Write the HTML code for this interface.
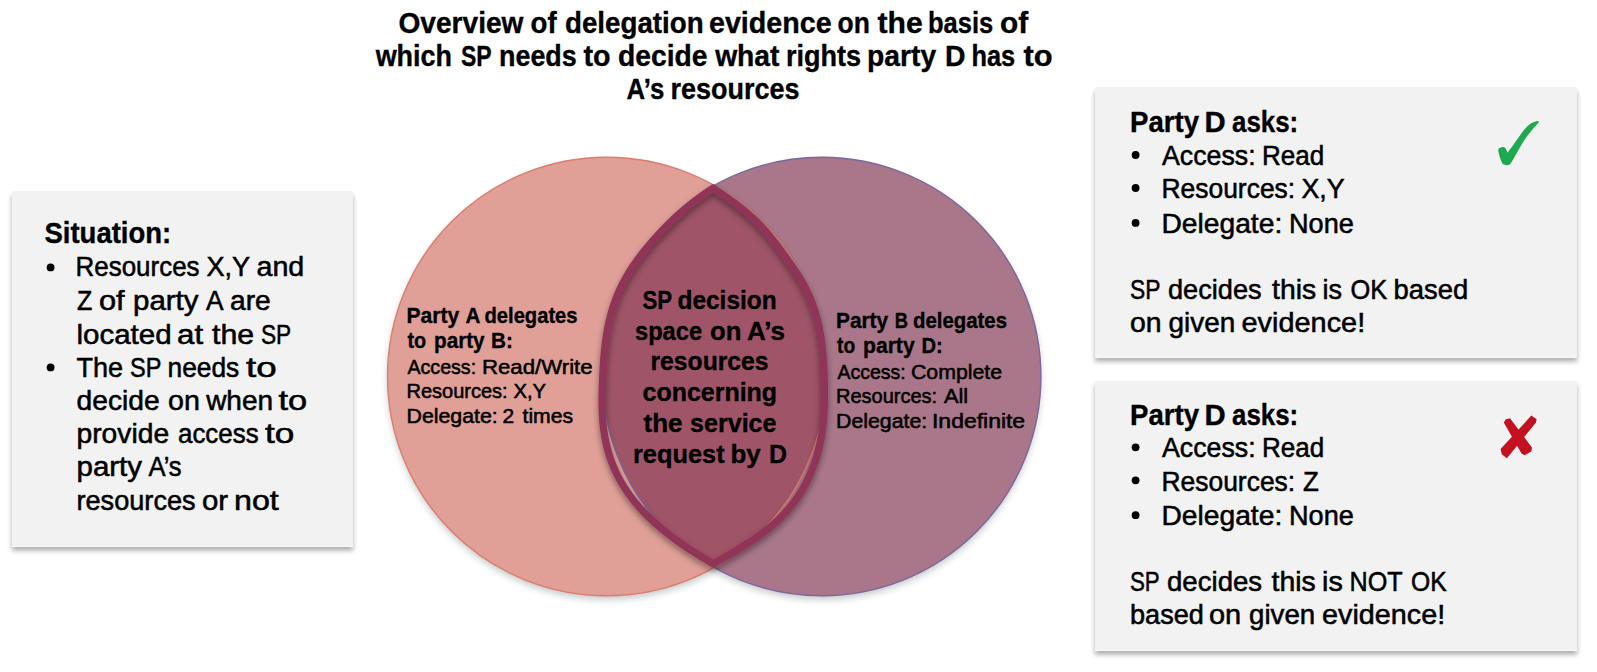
<!DOCTYPE html>
<html><head><meta charset="utf-8"><style>
html,body{margin:0;padding:0;background:#fff;}
body{width:1597px;height:672px;overflow:hidden;position:relative;font-family:"Liberation Sans",sans-serif;}
.box{position:absolute;background:#f2f2f2;box-shadow:0 3.5px 5px rgba(0,0,0,0.33),inset 0 -1px 0 rgba(255,255,255,0.5);}
svg{position:absolute;left:0;top:0;}
</style></head><body>
<div class="box" style="left:11.5px;top:190.5px;width:341px;height:356px"></div>
<div class="box" style="left:1095px;top:87px;width:482px;height:271px"></div>
<div class="box" style="left:1095px;top:380.5px;width:482px;height:270px"></div>
<svg width="1597" height="672" viewBox="0 0 1597 672" font-family="Liberation Sans, sans-serif">
<defs>
<filter id="ds" x="-10%" y="-10%" width="120%" height="125%">
<feDropShadow dx="0" dy="4" stdDeviation="3" flood-color="#203030" flood-opacity="0.25"/>
</filter>
<filter id="lds" x="-20%" y="-20%" width="140%" height="140%">
<feDropShadow dx="0" dy="3.5" stdDeviation="3.2" flood-color="#000" flood-opacity="0.42"/>
</filter>
<clipPath id="oclip"><path d="M713.40 184.0 L711.29 185.0 L709.75 186.0 L708.24 187.0 L706.75 188.0 L705.27 189.0 L703.82 190.0 L702.39 191.0 L700.98 192.0 L699.59 193.0 L698.21 194.0 L696.86 195.0 L695.52 196.0 L694.20 197.0 L692.90 198.0 L691.61 199.0 L690.34 200.0 L689.09 201.0 L687.85 202.0 L686.62 203.0 L685.41 204.0 L684.22 205.0 L683.04 206.0 L681.87 207.0 L680.71 208.0 L679.57 209.0 L678.44 210.0 L677.32 211.0 L676.22 212.0 L675.12 213.0 L674.03 214.0 L672.96 215.0 L671.89 216.0 L670.83 217.0 L669.78 218.0 L668.74 219.0 L667.71 220.0 L666.69 221.0 L665.67 222.0 L664.66 223.0 L663.66 224.0 L662.66 225.0 L661.67 226.0 L660.70 227.0 L659.72 228.0 L658.76 229.0 L657.80 230.0 L656.85 231.0 L655.91 232.0 L654.98 233.0 L654.05 234.0 L653.14 235.0 L652.23 236.0 L651.33 237.0 L650.43 238.0 L649.55 239.0 L648.67 240.0 L647.80 241.0 L646.94 242.0 L646.09 243.0 L645.24 244.0 L644.40 245.0 L643.57 246.0 L642.75 247.0 L641.94 248.0 L641.14 249.0 L640.34 250.0 L639.55 251.0 L638.77 252.0 L638.00 253.0 L637.24 254.0 L636.49 255.0 L635.74 256.0 L635.00 257.0 L634.28 258.0 L633.56 259.0 L632.84 260.0 L632.14 261.0 L631.45 262.0 L630.76 263.0 L630.08 264.0 L629.42 265.0 L628.76 266.0 L628.11 267.0 L627.46 268.0 L626.83 269.0 L626.21 270.0 L625.59 271.0 L624.99 272.0 L624.39 273.0 L623.80 274.0 L623.22 275.0 L622.65 276.0 L622.09 277.0 L621.54 278.0 L620.99 279.0 L620.46 280.0 L619.94 281.0 L619.42 282.0 L618.91 283.0 L618.42 284.0 L617.93 285.0 L617.45 286.0 L616.98 287.0 L616.51 288.0 L616.06 289.0 L615.61 290.0 L615.17 291.0 L614.74 292.0 L614.32 293.0 L613.91 294.0 L613.50 295.0 L613.11 296.0 L612.72 297.0 L612.34 298.0 L611.96 299.0 L611.59 300.0 L611.23 301.0 L610.88 302.0 L610.54 303.0 L610.20 304.0 L609.87 305.0 L609.55 306.0 L609.23 307.0 L608.92 308.0 L608.62 309.0 L608.32 310.0 L608.03 311.0 L607.75 312.0 L607.47 313.0 L607.20 314.0 L606.93 315.0 L606.68 316.0 L606.42 317.0 L606.18 318.0 L605.94 319.0 L605.70 320.0 L605.47 321.0 L605.25 322.0 L605.03 323.0 L604.82 324.0 L604.61 325.0 L604.41 326.0 L604.21 327.0 L604.02 328.0 L603.84 329.0 L603.65 330.0 L603.48 331.0 L603.31 332.0 L603.14 333.0 L602.98 334.0 L602.82 335.0 L602.66 336.0 L602.51 337.0 L602.37 338.0 L602.23 339.0 L602.09 340.0 L601.96 341.0 L601.83 342.0 L601.70 343.0 L601.58 344.0 L601.46 345.0 L601.35 346.0 L601.24 347.0 L601.13 348.0 L601.02 349.0 L600.92 350.0 L600.82 351.0 L600.73 352.0 L600.63 353.0 L600.54 354.0 L600.46 355.0 L600.37 356.0 L600.29 357.0 L600.21 358.0 L600.14 359.0 L600.06 360.0 L599.99 361.0 L599.92 362.0 L599.85 363.0 L599.78 364.0 L599.72 365.0 L599.66 366.0 L599.60 367.0 L599.54 368.0 L599.48 369.0 L599.42 370.0 L599.37 371.0 L599.32 372.0 L599.26 373.0 L599.21 374.0 L599.16 375.0 L599.11 376.0 L599.06 377.0 L599.02 378.0 L598.97 379.0 L598.92 380.0 L598.88 381.0 L598.84 382.0 L598.80 383.0 L598.76 384.0 L598.72 385.0 L598.68 386.0 L598.64 387.0 L598.61 388.0 L598.58 389.0 L598.55 390.0 L598.52 391.0 L598.50 392.0 L598.48 393.0 L598.46 394.0 L598.44 395.0 L598.42 396.0 L598.41 397.0 L598.40 398.0 L598.39 399.0 L598.39 400.0 L598.39 401.0 L598.39 402.0 L598.40 403.0 L598.40 404.0 L598.42 405.0 L598.43 406.0 L598.45 407.0 L598.47 408.0 L598.50 409.0 L598.53 410.0 L598.57 411.0 L598.60 412.0 L598.65 413.0 L598.69 414.0 L598.74 415.0 L598.80 416.0 L598.86 417.0 L598.93 418.0 L598.99 419.0 L599.07 420.0 L599.15 421.0 L599.23 422.0 L599.32 423.0 L599.42 424.0 L599.52 425.0 L599.62 426.0 L599.73 427.0 L599.85 428.0 L599.97 429.0 L600.10 430.0 L600.23 431.0 L600.37 432.0 L600.51 433.0 L600.66 434.0 L600.82 435.0 L600.98 436.0 L601.15 437.0 L601.33 438.0 L601.51 439.0 L601.70 440.0 L601.90 441.0 L602.10 442.0 L602.31 443.0 L602.53 444.0 L602.75 445.0 L602.98 446.0 L603.22 447.0 L603.47 448.0 L603.72 449.0 L603.98 450.0 L604.25 451.0 L604.53 452.0 L604.81 453.0 L605.10 454.0 L605.40 455.0 L605.71 456.0 L606.02 457.0 L606.35 458.0 L606.68 459.0 L607.02 460.0 L607.37 461.0 L607.73 462.0 L608.10 463.0 L608.47 464.0 L608.86 465.0 L609.25 466.0 L609.66 467.0 L610.07 468.0 L610.49 469.0 L610.92 470.0 L611.36 471.0 L611.81 472.0 L612.27 473.0 L612.74 474.0 L613.22 475.0 L613.71 476.0 L614.21 477.0 L614.72 478.0 L615.24 479.0 L615.77 480.0 L616.31 481.0 L616.86 482.0 L617.42 483.0 L617.99 484.0 L618.58 485.0 L619.17 486.0 L619.78 487.0 L620.39 488.0 L621.02 489.0 L621.66 490.0 L622.31 491.0 L622.97 492.0 L623.64 493.0 L624.32 494.0 L625.02 495.0 L625.73 496.0 L626.45 497.0 L627.18 498.0 L627.92 499.0 L628.68 500.0 L629.44 501.0 L630.22 502.0 L631.02 503.0 L631.82 504.0 L632.64 505.0 L633.47 506.0 L634.31 507.0 L635.17 508.0 L636.04 509.0 L636.92 510.0 L637.81 511.0 L638.72 512.0 L639.64 513.0 L640.58 514.0 L641.53 515.0 L642.49 516.0 L643.47 517.0 L644.46 518.0 L645.46 519.0 L646.48 520.0 L647.51 521.0 L648.56 522.0 L649.62 523.0 L650.69 524.0 L651.78 525.0 L652.88 526.0 L654.00 527.0 L655.14 528.0 L656.28 529.0 L657.45 530.0 L658.62 531.0 L659.82 532.0 L661.03 533.0 L662.25 534.0 L663.49 535.0 L664.74 536.0 L666.01 537.0 L667.30 538.0 L668.60 539.0 L669.92 540.0 L671.25 541.0 L672.60 542.0 L673.96 543.0 L675.34 544.0 L676.74 545.0 L678.15 546.0 L679.58 547.0 L681.03 548.0 L682.50 549.0 L683.98 550.0 L685.47 551.0 L686.99 552.0 L688.52 553.0 L690.07 554.0 L691.63 555.0 L693.21 556.0 L694.81 557.0 L696.43 558.0 L698.07 559.0 L699.72 560.0 L701.39 561.0 L703.08 562.0 L704.79 563.0 L706.51 564.0 L708.25 565.0 L710.01 566.0 L711.79 567.0 L713.80 568.0 L715.17 567.0 L716.89 566.0 L718.62 565.0 L720.35 564.0 L722.09 563.0 L723.82 562.0 L725.55 561.0 L727.28 560.0 L729.00 559.0 L730.72 558.0 L732.43 557.0 L734.14 556.0 L735.83 555.0 L737.52 554.0 L739.19 553.0 L740.85 552.0 L742.49 551.0 L744.12 550.0 L745.73 549.0 L747.33 548.0 L748.90 547.0 L750.46 546.0 L751.99 545.0 L753.49 544.0 L754.98 543.0 L756.44 542.0 L757.88 541.0 L759.30 540.0 L760.69 539.0 L762.06 538.0 L763.41 537.0 L764.74 536.0 L766.05 535.0 L767.33 534.0 L768.59 533.0 L769.84 532.0 L771.06 531.0 L772.26 530.0 L773.45 529.0 L774.61 528.0 L775.75 527.0 L776.88 526.0 L777.98 525.0 L779.07 524.0 L780.13 523.0 L781.18 522.0 L782.21 521.0 L783.23 520.0 L784.22 519.0 L785.20 518.0 L786.16 517.0 L787.10 516.0 L788.02 515.0 L788.93 514.0 L789.83 513.0 L790.70 512.0 L791.56 511.0 L792.41 510.0 L793.24 509.0 L794.05 508.0 L794.85 507.0 L795.63 506.0 L796.40 505.0 L797.16 504.0 L797.90 503.0 L798.63 502.0 L799.34 501.0 L800.04 500.0 L800.73 499.0 L801.40 498.0 L802.06 497.0 L802.71 496.0 L803.35 495.0 L803.97 494.0 L804.58 493.0 L805.18 492.0 L805.77 491.0 L806.35 490.0 L806.92 489.0 L807.47 488.0 L808.02 487.0 L808.56 486.0 L809.08 485.0 L809.60 484.0 L810.10 483.0 L810.60 482.0 L811.09 481.0 L811.57 480.0 L812.04 479.0 L812.50 478.0 L812.95 477.0 L813.40 476.0 L813.83 475.0 L814.26 474.0 L814.68 473.0 L815.09 472.0 L815.50 471.0 L815.89 470.0 L816.28 469.0 L816.66 468.0 L817.03 467.0 L817.40 466.0 L817.76 465.0 L818.11 464.0 L818.45 463.0 L818.78 462.0 L819.11 461.0 L819.43 460.0 L819.74 459.0 L820.05 458.0 L820.35 457.0 L820.64 456.0 L820.92 455.0 L821.20 454.0 L821.47 453.0 L821.73 452.0 L821.99 451.0 L822.24 450.0 L822.49 449.0 L822.73 448.0 L822.96 447.0 L823.18 446.0 L823.40 445.0 L823.62 444.0 L823.82 443.0 L824.02 442.0 L824.22 441.0 L824.41 440.0 L824.59 439.0 L824.77 438.0 L824.94 437.0 L825.11 436.0 L825.27 435.0 L825.43 434.0 L825.58 433.0 L825.72 432.0 L825.86 431.0 L826.00 430.0 L826.13 429.0 L826.25 428.0 L826.37 427.0 L826.49 426.0 L826.60 425.0 L826.70 424.0 L826.81 423.0 L826.90 422.0 L826.99 421.0 L827.08 420.0 L827.17 419.0 L827.25 418.0 L827.32 417.0 L827.39 416.0 L827.46 415.0 L827.52 414.0 L827.58 413.0 L827.64 412.0 L827.69 411.0 L827.73 410.0 L827.78 409.0 L827.82 408.0 L827.86 407.0 L827.89 406.0 L827.92 405.0 L827.95 404.0 L827.97 403.0 L827.99 402.0 L828.01 401.0 L828.03 400.0 L828.04 399.0 L828.05 398.0 L828.05 397.0 L828.06 396.0 L828.06 395.0 L828.06 394.0 L828.05 393.0 L828.05 392.0 L828.04 391.0 L828.03 390.0 L828.02 389.0 L828.00 388.0 L827.99 387.0 L827.97 386.0 L827.95 385.0 L827.92 384.0 L827.90 383.0 L827.87 382.0 L827.85 381.0 L827.82 380.0 L827.79 379.0 L827.75 378.0 L827.72 377.0 L827.69 376.0 L827.65 375.0 L827.61 374.0 L827.58 373.0 L827.54 372.0 L827.50 371.0 L827.45 370.0 L827.41 369.0 L827.36 368.0 L827.31 367.0 L827.26 366.0 L827.21 365.0 L827.16 364.0 L827.10 363.0 L827.04 362.0 L826.98 361.0 L826.92 360.0 L826.85 359.0 L826.78 358.0 L826.71 357.0 L826.63 356.0 L826.55 355.0 L826.47 354.0 L826.39 353.0 L826.30 352.0 L826.21 351.0 L826.11 350.0 L826.02 349.0 L825.91 348.0 L825.81 347.0 L825.70 346.0 L825.58 345.0 L825.47 344.0 L825.34 343.0 L825.22 342.0 L825.09 341.0 L824.95 340.0 L824.81 339.0 L824.67 338.0 L824.52 337.0 L824.37 336.0 L824.21 335.0 L824.05 334.0 L823.88 333.0 L823.70 332.0 L823.52 331.0 L823.34 330.0 L823.15 329.0 L822.96 328.0 L822.75 327.0 L822.55 326.0 L822.34 325.0 L822.12 324.0 L821.89 323.0 L821.66 322.0 L821.43 321.0 L821.18 320.0 L820.93 319.0 L820.68 318.0 L820.41 317.0 L820.14 316.0 L819.87 315.0 L819.59 314.0 L819.30 313.0 L819.00 312.0 L818.70 311.0 L818.38 310.0 L818.07 309.0 L817.74 308.0 L817.41 307.0 L817.07 306.0 L816.72 305.0 L816.36 304.0 L816.00 303.0 L815.62 302.0 L815.24 301.0 L814.85 300.0 L814.46 299.0 L814.05 298.0 L813.64 297.0 L813.22 296.0 L812.79 295.0 L812.35 294.0 L811.90 293.0 L811.44 292.0 L810.97 291.0 L810.50 290.0 L810.01 289.0 L809.52 288.0 L809.02 287.0 L808.50 286.0 L807.98 285.0 L807.45 284.0 L806.91 283.0 L806.36 282.0 L805.79 281.0 L805.22 280.0 L804.64 279.0 L804.05 278.0 L803.45 277.0 L802.84 276.0 L802.22 275.0 L801.59 274.0 L800.96 273.0 L800.31 272.0 L799.66 271.0 L799.00 270.0 L798.34 269.0 L797.67 268.0 L796.99 267.0 L796.31 266.0 L795.62 265.0 L794.92 264.0 L794.22 263.0 L793.52 262.0 L792.81 261.0 L792.10 260.0 L791.38 259.0 L790.66 258.0 L789.94 257.0 L789.22 256.0 L788.49 255.0 L787.76 254.0 L787.03 253.0 L786.30 252.0 L785.56 251.0 L784.83 250.0 L784.10 249.0 L783.36 248.0 L782.62 247.0 L781.88 246.0 L781.14 245.0 L780.40 244.0 L779.65 243.0 L778.90 242.0 L778.14 241.0 L777.38 240.0 L776.61 239.0 L775.83 238.0 L775.05 237.0 L774.26 236.0 L773.46 235.0 L772.65 234.0 L771.83 233.0 L771.01 232.0 L770.17 231.0 L769.32 230.0 L768.46 229.0 L767.59 228.0 L766.70 227.0 L765.80 226.0 L764.89 225.0 L763.96 224.0 L763.02 223.0 L762.06 222.0 L761.08 221.0 L760.09 220.0 L759.08 219.0 L758.06 218.0 L757.01 217.0 L755.95 216.0 L754.87 215.0 L753.78 214.0 L752.66 213.0 L751.54 212.0 L750.39 211.0 L749.23 210.0 L748.05 209.0 L746.85 208.0 L745.64 207.0 L744.41 206.0 L743.16 205.0 L741.90 204.0 L740.62 203.0 L739.33 202.0 L738.02 201.0 L736.69 200.0 L735.35 199.0 L733.99 198.0 L732.61 197.0 L731.22 196.0 L729.81 195.0 L728.39 194.0 L726.95 193.0 L725.50 192.0 L724.03 191.0 L722.54 190.0 L721.04 189.0 L719.53 188.0 L718.00 187.0 L716.45 186.0 L714.89 185.0Z"/></clipPath>
</defs>
<g filter="url(#ds)">
<circle cx="606.7" cy="376.5" r="219.2" fill="#e0a097"/>
<circle cx="821.7" cy="376.5" r="219.2" fill="#a97789"/>
</g>
<path d="M714.2 185.47 A219.2 219.2 0 0 1 714.2 567.53 A219.2 219.2 0 0 1 714.2 185.47Z" fill="#9f5467"/>
<circle cx="606.7" cy="376.5" r="219.2" fill="none" stroke="#db7c6c" stroke-width="1.4"/>
<circle cx="821.7" cy="376.5" r="219.2" fill="none" stroke="#7c66a0" stroke-width="1.4"/>
<g filter="url(#lds)">
<path d="M713.40 184.0 L711.29 185.0 L709.75 186.0 L708.24 187.0 L706.75 188.0 L705.27 189.0 L703.82 190.0 L702.39 191.0 L700.98 192.0 L699.59 193.0 L698.21 194.0 L696.86 195.0 L695.52 196.0 L694.20 197.0 L692.90 198.0 L691.61 199.0 L690.34 200.0 L689.09 201.0 L687.85 202.0 L686.62 203.0 L685.41 204.0 L684.22 205.0 L683.04 206.0 L681.87 207.0 L680.71 208.0 L679.57 209.0 L678.44 210.0 L677.32 211.0 L676.22 212.0 L675.12 213.0 L674.03 214.0 L672.96 215.0 L671.89 216.0 L670.83 217.0 L669.78 218.0 L668.74 219.0 L667.71 220.0 L666.69 221.0 L665.67 222.0 L664.66 223.0 L663.66 224.0 L662.66 225.0 L661.67 226.0 L660.70 227.0 L659.72 228.0 L658.76 229.0 L657.80 230.0 L656.85 231.0 L655.91 232.0 L654.98 233.0 L654.05 234.0 L653.14 235.0 L652.23 236.0 L651.33 237.0 L650.43 238.0 L649.55 239.0 L648.67 240.0 L647.80 241.0 L646.94 242.0 L646.09 243.0 L645.24 244.0 L644.40 245.0 L643.57 246.0 L642.75 247.0 L641.94 248.0 L641.14 249.0 L640.34 250.0 L639.55 251.0 L638.77 252.0 L638.00 253.0 L637.24 254.0 L636.49 255.0 L635.74 256.0 L635.00 257.0 L634.28 258.0 L633.56 259.0 L632.84 260.0 L632.14 261.0 L631.45 262.0 L630.76 263.0 L630.08 264.0 L629.42 265.0 L628.76 266.0 L628.11 267.0 L627.46 268.0 L626.83 269.0 L626.21 270.0 L625.59 271.0 L624.99 272.0 L624.39 273.0 L623.80 274.0 L623.22 275.0 L622.65 276.0 L622.09 277.0 L621.54 278.0 L620.99 279.0 L620.46 280.0 L619.94 281.0 L619.42 282.0 L618.91 283.0 L618.42 284.0 L617.93 285.0 L617.45 286.0 L616.98 287.0 L616.51 288.0 L616.06 289.0 L615.61 290.0 L615.17 291.0 L614.74 292.0 L614.32 293.0 L613.91 294.0 L613.50 295.0 L613.11 296.0 L612.72 297.0 L612.34 298.0 L611.96 299.0 L611.59 300.0 L611.23 301.0 L610.88 302.0 L610.54 303.0 L610.20 304.0 L609.87 305.0 L609.55 306.0 L609.23 307.0 L608.92 308.0 L608.62 309.0 L608.32 310.0 L608.03 311.0 L607.75 312.0 L607.47 313.0 L607.20 314.0 L606.93 315.0 L606.68 316.0 L606.42 317.0 L606.18 318.0 L605.94 319.0 L605.70 320.0 L605.47 321.0 L605.25 322.0 L605.03 323.0 L604.82 324.0 L604.61 325.0 L604.41 326.0 L604.21 327.0 L604.02 328.0 L603.84 329.0 L603.65 330.0 L603.48 331.0 L603.31 332.0 L603.14 333.0 L602.98 334.0 L602.82 335.0 L602.66 336.0 L602.51 337.0 L602.37 338.0 L602.23 339.0 L602.09 340.0 L601.96 341.0 L601.83 342.0 L601.70 343.0 L601.58 344.0 L601.46 345.0 L601.35 346.0 L601.24 347.0 L601.13 348.0 L601.02 349.0 L600.92 350.0 L600.82 351.0 L600.73 352.0 L600.63 353.0 L600.54 354.0 L600.46 355.0 L600.37 356.0 L600.29 357.0 L600.21 358.0 L600.14 359.0 L600.06 360.0 L599.99 361.0 L599.92 362.0 L599.85 363.0 L599.78 364.0 L599.72 365.0 L599.66 366.0 L599.60 367.0 L599.54 368.0 L599.48 369.0 L599.42 370.0 L599.37 371.0 L599.32 372.0 L599.26 373.0 L599.21 374.0 L599.16 375.0 L599.11 376.0 L599.06 377.0 L599.02 378.0 L598.97 379.0 L598.92 380.0 L598.88 381.0 L598.84 382.0 L598.80 383.0 L598.76 384.0 L598.72 385.0 L598.68 386.0 L598.64 387.0 L598.61 388.0 L598.58 389.0 L598.55 390.0 L598.52 391.0 L598.50 392.0 L598.48 393.0 L598.46 394.0 L598.44 395.0 L598.42 396.0 L598.41 397.0 L598.40 398.0 L598.39 399.0 L598.39 400.0 L598.39 401.0 L598.39 402.0 L598.40 403.0 L598.40 404.0 L598.42 405.0 L598.43 406.0 L598.45 407.0 L598.47 408.0 L598.50 409.0 L598.53 410.0 L598.57 411.0 L598.60 412.0 L598.65 413.0 L598.69 414.0 L598.74 415.0 L598.80 416.0 L598.86 417.0 L598.93 418.0 L598.99 419.0 L599.07 420.0 L599.15 421.0 L599.23 422.0 L599.32 423.0 L599.42 424.0 L599.52 425.0 L599.62 426.0 L599.73 427.0 L599.85 428.0 L599.97 429.0 L600.10 430.0 L600.23 431.0 L600.37 432.0 L600.51 433.0 L600.66 434.0 L600.82 435.0 L600.98 436.0 L601.15 437.0 L601.33 438.0 L601.51 439.0 L601.70 440.0 L601.90 441.0 L602.10 442.0 L602.31 443.0 L602.53 444.0 L602.75 445.0 L602.98 446.0 L603.22 447.0 L603.47 448.0 L603.72 449.0 L603.98 450.0 L604.25 451.0 L604.53 452.0 L604.81 453.0 L605.10 454.0 L605.40 455.0 L605.71 456.0 L606.02 457.0 L606.35 458.0 L606.68 459.0 L607.02 460.0 L607.37 461.0 L607.73 462.0 L608.10 463.0 L608.47 464.0 L608.86 465.0 L609.25 466.0 L609.66 467.0 L610.07 468.0 L610.49 469.0 L610.92 470.0 L611.36 471.0 L611.81 472.0 L612.27 473.0 L612.74 474.0 L613.22 475.0 L613.71 476.0 L614.21 477.0 L614.72 478.0 L615.24 479.0 L615.77 480.0 L616.31 481.0 L616.86 482.0 L617.42 483.0 L617.99 484.0 L618.58 485.0 L619.17 486.0 L619.78 487.0 L620.39 488.0 L621.02 489.0 L621.66 490.0 L622.31 491.0 L622.97 492.0 L623.64 493.0 L624.32 494.0 L625.02 495.0 L625.73 496.0 L626.45 497.0 L627.18 498.0 L627.92 499.0 L628.68 500.0 L629.44 501.0 L630.22 502.0 L631.02 503.0 L631.82 504.0 L632.64 505.0 L633.47 506.0 L634.31 507.0 L635.17 508.0 L636.04 509.0 L636.92 510.0 L637.81 511.0 L638.72 512.0 L639.64 513.0 L640.58 514.0 L641.53 515.0 L642.49 516.0 L643.47 517.0 L644.46 518.0 L645.46 519.0 L646.48 520.0 L647.51 521.0 L648.56 522.0 L649.62 523.0 L650.69 524.0 L651.78 525.0 L652.88 526.0 L654.00 527.0 L655.14 528.0 L656.28 529.0 L657.45 530.0 L658.62 531.0 L659.82 532.0 L661.03 533.0 L662.25 534.0 L663.49 535.0 L664.74 536.0 L666.01 537.0 L667.30 538.0 L668.60 539.0 L669.92 540.0 L671.25 541.0 L672.60 542.0 L673.96 543.0 L675.34 544.0 L676.74 545.0 L678.15 546.0 L679.58 547.0 L681.03 548.0 L682.50 549.0 L683.98 550.0 L685.47 551.0 L686.99 552.0 L688.52 553.0 L690.07 554.0 L691.63 555.0 L693.21 556.0 L694.81 557.0 L696.43 558.0 L698.07 559.0 L699.72 560.0 L701.39 561.0 L703.08 562.0 L704.79 563.0 L706.51 564.0 L708.25 565.0 L710.01 566.0 L711.79 567.0 L713.80 568.0 L715.17 567.0 L716.89 566.0 L718.62 565.0 L720.35 564.0 L722.09 563.0 L723.82 562.0 L725.55 561.0 L727.28 560.0 L729.00 559.0 L730.72 558.0 L732.43 557.0 L734.14 556.0 L735.83 555.0 L737.52 554.0 L739.19 553.0 L740.85 552.0 L742.49 551.0 L744.12 550.0 L745.73 549.0 L747.33 548.0 L748.90 547.0 L750.46 546.0 L751.99 545.0 L753.49 544.0 L754.98 543.0 L756.44 542.0 L757.88 541.0 L759.30 540.0 L760.69 539.0 L762.06 538.0 L763.41 537.0 L764.74 536.0 L766.05 535.0 L767.33 534.0 L768.59 533.0 L769.84 532.0 L771.06 531.0 L772.26 530.0 L773.45 529.0 L774.61 528.0 L775.75 527.0 L776.88 526.0 L777.98 525.0 L779.07 524.0 L780.13 523.0 L781.18 522.0 L782.21 521.0 L783.23 520.0 L784.22 519.0 L785.20 518.0 L786.16 517.0 L787.10 516.0 L788.02 515.0 L788.93 514.0 L789.83 513.0 L790.70 512.0 L791.56 511.0 L792.41 510.0 L793.24 509.0 L794.05 508.0 L794.85 507.0 L795.63 506.0 L796.40 505.0 L797.16 504.0 L797.90 503.0 L798.63 502.0 L799.34 501.0 L800.04 500.0 L800.73 499.0 L801.40 498.0 L802.06 497.0 L802.71 496.0 L803.35 495.0 L803.97 494.0 L804.58 493.0 L805.18 492.0 L805.77 491.0 L806.35 490.0 L806.92 489.0 L807.47 488.0 L808.02 487.0 L808.56 486.0 L809.08 485.0 L809.60 484.0 L810.10 483.0 L810.60 482.0 L811.09 481.0 L811.57 480.0 L812.04 479.0 L812.50 478.0 L812.95 477.0 L813.40 476.0 L813.83 475.0 L814.26 474.0 L814.68 473.0 L815.09 472.0 L815.50 471.0 L815.89 470.0 L816.28 469.0 L816.66 468.0 L817.03 467.0 L817.40 466.0 L817.76 465.0 L818.11 464.0 L818.45 463.0 L818.78 462.0 L819.11 461.0 L819.43 460.0 L819.74 459.0 L820.05 458.0 L820.35 457.0 L820.64 456.0 L820.92 455.0 L821.20 454.0 L821.47 453.0 L821.73 452.0 L821.99 451.0 L822.24 450.0 L822.49 449.0 L822.73 448.0 L822.96 447.0 L823.18 446.0 L823.40 445.0 L823.62 444.0 L823.82 443.0 L824.02 442.0 L824.22 441.0 L824.41 440.0 L824.59 439.0 L824.77 438.0 L824.94 437.0 L825.11 436.0 L825.27 435.0 L825.43 434.0 L825.58 433.0 L825.72 432.0 L825.86 431.0 L826.00 430.0 L826.13 429.0 L826.25 428.0 L826.37 427.0 L826.49 426.0 L826.60 425.0 L826.70 424.0 L826.81 423.0 L826.90 422.0 L826.99 421.0 L827.08 420.0 L827.17 419.0 L827.25 418.0 L827.32 417.0 L827.39 416.0 L827.46 415.0 L827.52 414.0 L827.58 413.0 L827.64 412.0 L827.69 411.0 L827.73 410.0 L827.78 409.0 L827.82 408.0 L827.86 407.0 L827.89 406.0 L827.92 405.0 L827.95 404.0 L827.97 403.0 L827.99 402.0 L828.01 401.0 L828.03 400.0 L828.04 399.0 L828.05 398.0 L828.05 397.0 L828.06 396.0 L828.06 395.0 L828.06 394.0 L828.05 393.0 L828.05 392.0 L828.04 391.0 L828.03 390.0 L828.02 389.0 L828.00 388.0 L827.99 387.0 L827.97 386.0 L827.95 385.0 L827.92 384.0 L827.90 383.0 L827.87 382.0 L827.85 381.0 L827.82 380.0 L827.79 379.0 L827.75 378.0 L827.72 377.0 L827.69 376.0 L827.65 375.0 L827.61 374.0 L827.58 373.0 L827.54 372.0 L827.50 371.0 L827.45 370.0 L827.41 369.0 L827.36 368.0 L827.31 367.0 L827.26 366.0 L827.21 365.0 L827.16 364.0 L827.10 363.0 L827.04 362.0 L826.98 361.0 L826.92 360.0 L826.85 359.0 L826.78 358.0 L826.71 357.0 L826.63 356.0 L826.55 355.0 L826.47 354.0 L826.39 353.0 L826.30 352.0 L826.21 351.0 L826.11 350.0 L826.02 349.0 L825.91 348.0 L825.81 347.0 L825.70 346.0 L825.58 345.0 L825.47 344.0 L825.34 343.0 L825.22 342.0 L825.09 341.0 L824.95 340.0 L824.81 339.0 L824.67 338.0 L824.52 337.0 L824.37 336.0 L824.21 335.0 L824.05 334.0 L823.88 333.0 L823.70 332.0 L823.52 331.0 L823.34 330.0 L823.15 329.0 L822.96 328.0 L822.75 327.0 L822.55 326.0 L822.34 325.0 L822.12 324.0 L821.89 323.0 L821.66 322.0 L821.43 321.0 L821.18 320.0 L820.93 319.0 L820.68 318.0 L820.41 317.0 L820.14 316.0 L819.87 315.0 L819.59 314.0 L819.30 313.0 L819.00 312.0 L818.70 311.0 L818.38 310.0 L818.07 309.0 L817.74 308.0 L817.41 307.0 L817.07 306.0 L816.72 305.0 L816.36 304.0 L816.00 303.0 L815.62 302.0 L815.24 301.0 L814.85 300.0 L814.46 299.0 L814.05 298.0 L813.64 297.0 L813.22 296.0 L812.79 295.0 L812.35 294.0 L811.90 293.0 L811.44 292.0 L810.97 291.0 L810.50 290.0 L810.01 289.0 L809.52 288.0 L809.02 287.0 L808.50 286.0 L807.98 285.0 L807.45 284.0 L806.91 283.0 L806.36 282.0 L805.79 281.0 L805.22 280.0 L804.64 279.0 L804.05 278.0 L803.45 277.0 L802.84 276.0 L802.22 275.0 L801.59 274.0 L800.96 273.0 L800.31 272.0 L799.66 271.0 L799.00 270.0 L798.34 269.0 L797.67 268.0 L796.99 267.0 L796.31 266.0 L795.62 265.0 L794.92 264.0 L794.22 263.0 L793.52 262.0 L792.81 261.0 L792.10 260.0 L791.38 259.0 L790.66 258.0 L789.94 257.0 L789.22 256.0 L788.49 255.0 L787.76 254.0 L787.03 253.0 L786.30 252.0 L785.56 251.0 L784.83 250.0 L784.10 249.0 L783.36 248.0 L782.62 247.0 L781.88 246.0 L781.14 245.0 L780.40 244.0 L779.65 243.0 L778.90 242.0 L778.14 241.0 L777.38 240.0 L776.61 239.0 L775.83 238.0 L775.05 237.0 L774.26 236.0 L773.46 235.0 L772.65 234.0 L771.83 233.0 L771.01 232.0 L770.17 231.0 L769.32 230.0 L768.46 229.0 L767.59 228.0 L766.70 227.0 L765.80 226.0 L764.89 225.0 L763.96 224.0 L763.02 223.0 L762.06 222.0 L761.08 221.0 L760.09 220.0 L759.08 219.0 L758.06 218.0 L757.01 217.0 L755.95 216.0 L754.87 215.0 L753.78 214.0 L752.66 213.0 L751.54 212.0 L750.39 211.0 L749.23 210.0 L748.05 209.0 L746.85 208.0 L745.64 207.0 L744.41 206.0 L743.16 205.0 L741.90 204.0 L740.62 203.0 L739.33 202.0 L738.02 201.0 L736.69 200.0 L735.35 199.0 L733.99 198.0 L732.61 197.0 L731.22 196.0 L729.81 195.0 L728.39 194.0 L726.95 193.0 L725.50 192.0 L724.03 191.0 L722.54 190.0 L721.04 189.0 L719.53 188.0 L718.00 187.0 L716.45 186.0 L714.89 185.0Z" fill="none" stroke="#913459" stroke-width="14.6" clip-path="url(#oclip)"/>
</g>
<!-- check -->
<path d="M1498.2 150.1 C1498.6 154 1500 159 1502.4 163.6 C1503.6 165.3 1509 166 1510.7 163.6 C1515 156 1519 149 1521.7 144.4 C1526 137 1531 131 1538.9 122.3 C1538.6 121 1537 121 1536.3 121.25 C1533 122 1531 123.5 1530 124.1 C1527 126.5 1524 130 1521.7 132.9 C1518 138 1516 141 1514.4 143.3 C1512 147 1509.5 150 1507.6 152.7 C1506.5 150.5 1506 148.5 1505 147.5 C1504 146.8 1503 146.8 1502.4 147 C1500.5 147.6 1499.4 148 1498.75 148.5Z" fill="#1ea94f"/>
<!-- cross -->
<path d="M1503.75 422.4 L1505.8 419.3 L1510 418.2 L1531.9 447.4 L1531.35 451.6 L1524.6 455.2 L1521.5 453.6Z" fill="#c4111f"/>
<path d="M1531.35 415.6 L1536.6 419.3 L1536 422.4 L1506.9 458.3 L1501.7 454.2 L1500.6 449Z" fill="#c4111f"/>
<circle cx="50.6" cy="267.4" r="3.9" fill="#000"/>
<circle cx="50.6" cy="367.4" r="3.9" fill="#000"/>
<circle cx="1135.6" cy="155.0" r="3.9" fill="#000"/>
<circle cx="1135.6" cy="447.3" r="3.9" fill="#000"/>
<circle cx="1135.6" cy="188.0" r="3.9" fill="#000"/>
<circle cx="1135.6" cy="480.3" r="3.9" fill="#000"/>
<circle cx="1135.6" cy="222.9" r="3.9" fill="#000"/>
<circle cx="1135.6" cy="515.2" r="3.9" fill="#000"/>
<text x="398.50" y="32.80" font-size="28.6" font-weight="bold" textLength="124.96" lengthAdjust="spacingAndGlyphs" fill="#000" stroke="#000" stroke-width="0.35">Overview</text>
<text x="530.50" y="32.80" font-size="28.6" font-weight="bold" textLength="26.10" lengthAdjust="spacingAndGlyphs" fill="#000" stroke="#000" stroke-width="0.35">of</text>
<text x="565.00" y="32.80" font-size="28.6" font-weight="bold" textLength="138.63" lengthAdjust="spacingAndGlyphs" fill="#000" stroke="#000" stroke-width="0.35">delegation</text>
<text x="709.00" y="32.80" font-size="28.6" font-weight="bold" textLength="122.58" lengthAdjust="spacingAndGlyphs" fill="#000" stroke="#000" stroke-width="0.35">evidence</text>
<text x="837.50" y="32.80" font-size="28.6" font-weight="bold" textLength="32.28" lengthAdjust="spacingAndGlyphs" fill="#000" stroke="#000" stroke-width="0.35">on</text>
<text x="877.50" y="32.80" font-size="28.6" font-weight="bold" textLength="45.19" lengthAdjust="spacingAndGlyphs" fill="#000" stroke="#000" stroke-width="0.35">the</text>
<text x="928.00" y="32.80" font-size="28.6" font-weight="bold" textLength="65.28" lengthAdjust="spacingAndGlyphs" fill="#000" stroke="#000" stroke-width="0.35">basis</text>
<text x="1000.00" y="32.80" font-size="28.6" font-weight="bold" textLength="28.15" lengthAdjust="spacingAndGlyphs" fill="#000" stroke="#000" stroke-width="0.35">of</text>
<text x="375.63" y="65.60" font-size="28.6" font-weight="bold" textLength="76.41" lengthAdjust="spacingAndGlyphs" fill="#000" stroke="#000" stroke-width="0.35">which</text>
<text x="461.00" y="65.60" font-size="28.6" font-weight="bold" textLength="30.67" lengthAdjust="spacingAndGlyphs" fill="#000" stroke="#000" stroke-width="0.35">SP</text>
<text x="499.00" y="65.60" font-size="28.6" font-weight="bold" textLength="77.72" lengthAdjust="spacingAndGlyphs" fill="#000" stroke="#000" stroke-width="0.35">needs</text>
<text x="583.50" y="65.60" font-size="28.6" font-weight="bold" textLength="27.07" lengthAdjust="spacingAndGlyphs" fill="#000" stroke="#000" stroke-width="0.35">to</text>
<text x="618.00" y="65.60" font-size="28.6" font-weight="bold" textLength="89.54" lengthAdjust="spacingAndGlyphs" fill="#000" stroke="#000" stroke-width="0.35">decide</text>
<text x="715.14" y="65.60" font-size="28.6" font-weight="bold" textLength="64.35" lengthAdjust="spacingAndGlyphs" fill="#000" stroke="#000" stroke-width="0.35">what</text>
<text x="786.00" y="65.60" font-size="28.6" font-weight="bold" textLength="75.13" lengthAdjust="spacingAndGlyphs" fill="#000" stroke="#000" stroke-width="0.35">rights</text>
<text x="867.00" y="65.60" font-size="28.6" font-weight="bold" textLength="69.11" lengthAdjust="spacingAndGlyphs" fill="#000" stroke="#000" stroke-width="0.35">party</text>
<text x="945.00" y="65.60" font-size="28.6" font-weight="bold" textLength="20.47" lengthAdjust="spacingAndGlyphs" fill="#000" stroke="#000" stroke-width="0.35">D</text>
<text x="971.50" y="65.60" font-size="28.6" font-weight="bold" textLength="43.75" lengthAdjust="spacingAndGlyphs" fill="#000" stroke="#000" stroke-width="0.35">has</text>
<text x="1023.50" y="65.60" font-size="28.6" font-weight="bold" textLength="29.14" lengthAdjust="spacingAndGlyphs" fill="#000" stroke="#000" stroke-width="0.35">to</text>
<text x="626.50" y="98.60" font-size="28.6" font-weight="bold" textLength="37.72" lengthAdjust="spacingAndGlyphs" fill="#000" stroke="#000" stroke-width="0.35">A’s</text>
<text x="670.50" y="98.60" font-size="28.6" font-weight="bold" textLength="129.10" lengthAdjust="spacingAndGlyphs" fill="#000" stroke="#000" stroke-width="0.35">resources</text>
<text x="44.50" y="243.40" font-size="28.6" font-weight="bold" textLength="126.68" lengthAdjust="spacingAndGlyphs" fill="#000" stroke="#000" stroke-width="0.35">Situation:</text>
<text x="75.50" y="276.30" font-size="28.3" font-weight="normal" textLength="124.10" lengthAdjust="spacingAndGlyphs" fill="#000" stroke="#000" stroke-width="0.55">Resources</text>
<text x="206.50" y="276.30" font-size="28.3" font-weight="normal" textLength="43.64" lengthAdjust="spacingAndGlyphs" fill="#000" stroke="#000" stroke-width="0.55">X,Y</text>
<text x="256.50" y="276.30" font-size="28.3" font-weight="normal" textLength="47.75" lengthAdjust="spacingAndGlyphs" fill="#000" stroke="#000" stroke-width="0.55">and</text>
<text x="77.00" y="309.60" font-size="28.3" font-weight="normal" textLength="15.31" lengthAdjust="spacingAndGlyphs" fill="#000" stroke="#000" stroke-width="0.55">Z</text>
<text x="99.00" y="309.60" font-size="28.3" font-weight="normal" textLength="25.68" lengthAdjust="spacingAndGlyphs" fill="#000" stroke="#000" stroke-width="0.55">of</text>
<text x="133.00" y="309.60" font-size="28.3" font-weight="normal" textLength="65.53" lengthAdjust="spacingAndGlyphs" fill="#000" stroke="#000" stroke-width="0.55">party</text>
<text x="206.00" y="309.60" font-size="28.3" font-weight="normal" textLength="17.51" lengthAdjust="spacingAndGlyphs" fill="#000" stroke="#000" stroke-width="0.55">A</text>
<text x="230.00" y="309.60" font-size="28.3" font-weight="normal" textLength="40.74" lengthAdjust="spacingAndGlyphs" fill="#000" stroke="#000" stroke-width="0.55">are</text>
<text x="76.50" y="343.50" font-size="28.3" font-weight="normal" textLength="95.14" lengthAdjust="spacingAndGlyphs" fill="#000" stroke="#000" stroke-width="0.55">located</text>
<text x="177.00" y="343.50" font-size="28.3" font-weight="normal" textLength="26.11" lengthAdjust="spacingAndGlyphs" fill="#000" stroke="#000" stroke-width="0.55">at</text>
<text x="212.00" y="343.50" font-size="28.3" font-weight="normal" textLength="42.12" lengthAdjust="spacingAndGlyphs" fill="#000" stroke="#000" stroke-width="0.55">the</text>
<text x="261.00" y="343.50" font-size="28.3" font-weight="normal" textLength="30.23" lengthAdjust="spacingAndGlyphs" fill="#000" stroke="#000" stroke-width="0.55">SP</text>
<text x="76.50" y="376.70" font-size="28.3" font-weight="normal" textLength="46.58" lengthAdjust="spacingAndGlyphs" fill="#000" stroke="#000" stroke-width="0.55">The</text>
<text x="130.00" y="376.70" font-size="28.3" font-weight="normal" textLength="31.35" lengthAdjust="spacingAndGlyphs" fill="#000" stroke="#000" stroke-width="0.55">SP</text>
<text x="167.50" y="376.70" font-size="28.3" font-weight="normal" textLength="71.67" lengthAdjust="spacingAndGlyphs" fill="#000" stroke="#000" stroke-width="0.55">needs</text>
<text x="246.00" y="376.70" font-size="28.3" font-weight="normal" textLength="30.67" lengthAdjust="spacingAndGlyphs" fill="#000" stroke="#000" stroke-width="0.55">to</text>
<text x="76.50" y="410.00" font-size="28.3" font-weight="normal" textLength="83.14" lengthAdjust="spacingAndGlyphs" fill="#000" stroke="#000" stroke-width="0.55">decide</text>
<text x="168.00" y="410.00" font-size="28.3" font-weight="normal" textLength="31.88" lengthAdjust="spacingAndGlyphs" fill="#000" stroke="#000" stroke-width="0.55">on</text>
<text x="206.13" y="410.00" font-size="28.3" font-weight="normal" textLength="66.99" lengthAdjust="spacingAndGlyphs" fill="#000" stroke="#000" stroke-width="0.55">when</text>
<text x="278.50" y="410.00" font-size="28.3" font-weight="normal" textLength="28.69" lengthAdjust="spacingAndGlyphs" fill="#000" stroke="#000" stroke-width="0.55">to</text>
<text x="76.50" y="442.70" font-size="28.3" font-weight="normal" textLength="92.64" lengthAdjust="spacingAndGlyphs" fill="#000" stroke="#000" stroke-width="0.55">provide</text>
<text x="178.00" y="442.70" font-size="28.3" font-weight="normal" textLength="80.67" lengthAdjust="spacingAndGlyphs" fill="#000" stroke="#000" stroke-width="0.55">access</text>
<text x="265.00" y="442.70" font-size="28.3" font-weight="normal" textLength="29.33" lengthAdjust="spacingAndGlyphs" fill="#000" stroke="#000" stroke-width="0.55">to</text>
<text x="76.50" y="475.80" font-size="28.3" font-weight="normal" textLength="65.55" lengthAdjust="spacingAndGlyphs" fill="#000" stroke="#000" stroke-width="0.55">party</text>
<text x="148.50" y="475.80" font-size="28.3" font-weight="normal" textLength="33.14" lengthAdjust="spacingAndGlyphs" fill="#000" stroke="#000" stroke-width="0.55">A’s</text>
<text x="76.50" y="510.20" font-size="28.3" font-weight="normal" textLength="119.11" lengthAdjust="spacingAndGlyphs" fill="#000" stroke="#000" stroke-width="0.55">resources</text>
<text x="202.00" y="510.20" font-size="28.3" font-weight="normal" textLength="26.16" lengthAdjust="spacingAndGlyphs" fill="#000" stroke="#000" stroke-width="0.55">or</text>
<text x="234.00" y="510.20" font-size="28.3" font-weight="normal" textLength="44.73" lengthAdjust="spacingAndGlyphs" fill="#000" stroke="#000" stroke-width="0.55">not</text>
<text x="1130.00" y="132.20" font-size="28.6" font-weight="bold" textLength="69.11" lengthAdjust="spacingAndGlyphs" fill="#000" stroke="#000" stroke-width="0.35">Party</text>
<text x="1204.50" y="132.20" font-size="28.6" font-weight="bold" textLength="21.16" lengthAdjust="spacingAndGlyphs" fill="#000" stroke="#000" stroke-width="0.35">D</text>
<text x="1232.00" y="132.20" font-size="28.6" font-weight="bold" textLength="66.23" lengthAdjust="spacingAndGlyphs" fill="#000" stroke="#000" stroke-width="0.35">asks:</text>
<text x="1162.00" y="165.00" font-size="28.3" font-weight="normal" textLength="93.63" lengthAdjust="spacingAndGlyphs" fill="#000" stroke="#000" stroke-width="0.55">Access:</text>
<text x="1262.00" y="165.00" font-size="28.3" font-weight="normal" textLength="62.25" lengthAdjust="spacingAndGlyphs" fill="#000" stroke="#000" stroke-width="0.55">Read</text>
<text x="1161.50" y="198.40" font-size="28.3" font-weight="normal" textLength="133.63" lengthAdjust="spacingAndGlyphs" fill="#000" stroke="#000" stroke-width="0.55">Resources:</text>
<text x="1301.50" y="198.40" font-size="28.3" font-weight="normal" textLength="43.16" lengthAdjust="spacingAndGlyphs" fill="#000" stroke="#000" stroke-width="0.55">X,Y</text>
<text x="1161.50" y="232.60" font-size="28.3" font-weight="normal" textLength="120.73" lengthAdjust="spacingAndGlyphs" fill="#000" stroke="#000" stroke-width="0.55">Delegate:</text>
<text x="1289.00" y="232.60" font-size="28.3" font-weight="normal" textLength="64.77" lengthAdjust="spacingAndGlyphs" fill="#000" stroke="#000" stroke-width="0.55">None</text>
<text x="1130.00" y="298.70" font-size="28.3" font-weight="normal" textLength="30.40" lengthAdjust="spacingAndGlyphs" fill="#000" stroke="#000" stroke-width="0.55">SP</text>
<text x="1168.00" y="298.70" font-size="28.3" font-weight="normal" textLength="93.61" lengthAdjust="spacingAndGlyphs" fill="#000" stroke="#000" stroke-width="0.55">decides</text>
<text x="1272.00" y="298.70" font-size="28.3" font-weight="normal" textLength="44.16" lengthAdjust="spacingAndGlyphs" fill="#000" stroke="#000" stroke-width="0.55">this</text>
<text x="1322.50" y="298.70" font-size="28.3" font-weight="normal" textLength="19.53" lengthAdjust="spacingAndGlyphs" fill="#000" stroke="#000" stroke-width="0.55">is</text>
<text x="1350.50" y="298.70" font-size="28.3" font-weight="normal" textLength="36.68" lengthAdjust="spacingAndGlyphs" fill="#000" stroke="#000" stroke-width="0.55">OK</text>
<text x="1393.50" y="298.70" font-size="28.3" font-weight="normal" textLength="74.72" lengthAdjust="spacingAndGlyphs" fill="#000" stroke="#000" stroke-width="0.55">based</text>
<text x="1130.00" y="331.50" font-size="28.3" font-weight="normal" textLength="31.59" lengthAdjust="spacingAndGlyphs" fill="#000" stroke="#000" stroke-width="0.55">on</text>
<text x="1168.50" y="331.50" font-size="28.3" font-weight="normal" textLength="66.70" lengthAdjust="spacingAndGlyphs" fill="#000" stroke="#000" stroke-width="0.55">given</text>
<text x="1241.50" y="331.50" font-size="28.3" font-weight="normal" textLength="123.68" lengthAdjust="spacingAndGlyphs" fill="#000" stroke="#000" stroke-width="0.55">evidence!</text>
<text x="1130.00" y="424.50" font-size="28.6" font-weight="bold" textLength="69.11" lengthAdjust="spacingAndGlyphs" fill="#000" stroke="#000" stroke-width="0.35">Party</text>
<text x="1204.50" y="424.50" font-size="28.6" font-weight="bold" textLength="21.16" lengthAdjust="spacingAndGlyphs" fill="#000" stroke="#000" stroke-width="0.35">D</text>
<text x="1232.00" y="424.50" font-size="28.6" font-weight="bold" textLength="66.23" lengthAdjust="spacingAndGlyphs" fill="#000" stroke="#000" stroke-width="0.35">asks:</text>
<text x="1162.00" y="457.30" font-size="28.3" font-weight="normal" textLength="93.63" lengthAdjust="spacingAndGlyphs" fill="#000" stroke="#000" stroke-width="0.55">Access:</text>
<text x="1262.00" y="457.30" font-size="28.3" font-weight="normal" textLength="62.25" lengthAdjust="spacingAndGlyphs" fill="#000" stroke="#000" stroke-width="0.55">Read</text>
<text x="1161.50" y="490.70" font-size="28.3" font-weight="normal" textLength="133.63" lengthAdjust="spacingAndGlyphs" fill="#000" stroke="#000" stroke-width="0.55">Resources:</text>
<text x="1303.00" y="490.70" font-size="28.3" font-weight="normal" textLength="15.82" lengthAdjust="spacingAndGlyphs" fill="#000" stroke="#000" stroke-width="0.55">Z</text>
<text x="1161.50" y="524.90" font-size="28.3" font-weight="normal" textLength="120.73" lengthAdjust="spacingAndGlyphs" fill="#000" stroke="#000" stroke-width="0.55">Delegate:</text>
<text x="1289.00" y="524.90" font-size="28.3" font-weight="normal" textLength="64.77" lengthAdjust="spacingAndGlyphs" fill="#000" stroke="#000" stroke-width="0.55">None</text>
<text x="1130.00" y="591.00" font-size="28.3" font-weight="normal" textLength="29.72" lengthAdjust="spacingAndGlyphs" fill="#000" stroke="#000" stroke-width="0.55">SP</text>
<text x="1167.00" y="591.00" font-size="28.3" font-weight="normal" textLength="95.17" lengthAdjust="spacingAndGlyphs" fill="#000" stroke="#000" stroke-width="0.55">decides</text>
<text x="1271.50" y="591.00" font-size="28.3" font-weight="normal" textLength="44.16" lengthAdjust="spacingAndGlyphs" fill="#000" stroke="#000" stroke-width="0.55">this</text>
<text x="1322.00" y="591.00" font-size="28.3" font-weight="normal" textLength="20.75" lengthAdjust="spacingAndGlyphs" fill="#000" stroke="#000" stroke-width="0.55">is</text>
<text x="1349.50" y="591.00" font-size="28.3" font-weight="normal" textLength="53.23" lengthAdjust="spacingAndGlyphs" fill="#000" stroke="#000" stroke-width="0.55">NOT</text>
<text x="1411.00" y="591.00" font-size="28.3" font-weight="normal" textLength="35.61" lengthAdjust="spacingAndGlyphs" fill="#000" stroke="#000" stroke-width="0.55">OK</text>
<text x="1130.00" y="623.80" font-size="28.3" font-weight="normal" textLength="73.81" lengthAdjust="spacingAndGlyphs" fill="#000" stroke="#000" stroke-width="0.55">based</text>
<text x="1209.00" y="623.80" font-size="28.3" font-weight="normal" textLength="32.20" lengthAdjust="spacingAndGlyphs" fill="#000" stroke="#000" stroke-width="0.55">on</text>
<text x="1249.00" y="623.80" font-size="28.3" font-weight="normal" textLength="66.17" lengthAdjust="spacingAndGlyphs" fill="#000" stroke="#000" stroke-width="0.55">given</text>
<text x="1322.00" y="623.80" font-size="28.3" font-weight="normal" textLength="123.17" lengthAdjust="spacingAndGlyphs" fill="#000" stroke="#000" stroke-width="0.55">evidence!</text>
<text x="406.50" y="322.80" font-size="21.2" font-weight="bold" textLength="52.65" lengthAdjust="spacingAndGlyphs" fill="#000" stroke="#000" stroke-width="0.35">Party</text>
<text x="465.50" y="322.80" font-size="21.2" font-weight="bold" textLength="14.87" lengthAdjust="spacingAndGlyphs" fill="#000" stroke="#000" stroke-width="0.35">A</text>
<text x="484.50" y="322.80" font-size="21.2" font-weight="bold" textLength="93.05" lengthAdjust="spacingAndGlyphs" fill="#000" stroke="#000" stroke-width="0.35">delegates</text>
<text x="407.50" y="348.20" font-size="21.2" font-weight="bold" textLength="18.71" lengthAdjust="spacingAndGlyphs" fill="#000" stroke="#000" stroke-width="0.35">to</text>
<text x="434.00" y="348.20" font-size="21.2" font-weight="bold" textLength="50.60" lengthAdjust="spacingAndGlyphs" fill="#000" stroke="#000" stroke-width="0.35">party</text>
<text x="491.00" y="348.20" font-size="21.2" font-weight="bold" textLength="21.77" lengthAdjust="spacingAndGlyphs" fill="#000" stroke="#000" stroke-width="0.35">B:</text>
<text x="407.50" y="373.90" font-size="20.8" font-weight="normal" textLength="68.61" lengthAdjust="spacingAndGlyphs" fill="#000" stroke="#000" stroke-width="0.55">Access:</text>
<text x="482.00" y="373.90" font-size="20.8" font-weight="normal" textLength="110.58" lengthAdjust="spacingAndGlyphs" fill="#000" stroke="#000" stroke-width="0.55">Read/Write</text>
<text x="406.50" y="397.80" font-size="20.8" font-weight="normal" textLength="101.13" lengthAdjust="spacingAndGlyphs" fill="#000" stroke="#000" stroke-width="0.55">Resources:</text>
<text x="513.50" y="397.80" font-size="20.8" font-weight="normal" textLength="32.61" lengthAdjust="spacingAndGlyphs" fill="#000" stroke="#000" stroke-width="0.55">X,Y</text>
<text x="406.50" y="422.50" font-size="20.8" font-weight="normal" textLength="91.22" lengthAdjust="spacingAndGlyphs" fill="#000" stroke="#000" stroke-width="0.55">Delegate:</text>
<text x="502.50" y="422.50" font-size="20.8" font-weight="normal" textLength="11.67" lengthAdjust="spacingAndGlyphs" fill="#000" stroke="#000" stroke-width="0.55">2</text>
<text x="522.50" y="422.50" font-size="20.8" font-weight="normal" textLength="50.57" lengthAdjust="spacingAndGlyphs" fill="#000" stroke="#000" stroke-width="0.55">times</text>
<text x="836.00" y="328.00" font-size="21.2" font-weight="bold" textLength="52.12" lengthAdjust="spacingAndGlyphs" fill="#000" stroke="#000" stroke-width="0.35">Party</text>
<text x="894.79" y="328.00" font-size="21.2" font-weight="bold" textLength="13.23" lengthAdjust="spacingAndGlyphs" fill="#000" stroke="#000" stroke-width="0.35">B</text>
<text x="913.00" y="328.00" font-size="21.2" font-weight="bold" textLength="94.05" lengthAdjust="spacingAndGlyphs" fill="#000" stroke="#000" stroke-width="0.35">delegates</text>
<text x="837.00" y="353.10" font-size="21.2" font-weight="bold" textLength="18.15" lengthAdjust="spacingAndGlyphs" fill="#000" stroke="#000" stroke-width="0.35">to</text>
<text x="863.00" y="353.10" font-size="21.2" font-weight="bold" textLength="51.63" lengthAdjust="spacingAndGlyphs" fill="#000" stroke="#000" stroke-width="0.35">party</text>
<text x="921.50" y="353.10" font-size="21.2" font-weight="bold" textLength="21.30" lengthAdjust="spacingAndGlyphs" fill="#000" stroke="#000" stroke-width="0.35">D:</text>
<text x="837.50" y="379.00" font-size="20.8" font-weight="normal" textLength="68.06" lengthAdjust="spacingAndGlyphs" fill="#000" stroke="#000" stroke-width="0.55">Access:</text>
<text x="911.00" y="379.00" font-size="20.8" font-weight="normal" textLength="91.06" lengthAdjust="spacingAndGlyphs" fill="#000" stroke="#000" stroke-width="0.55">Complete</text>
<text x="836.00" y="402.80" font-size="20.8" font-weight="normal" textLength="101.10" lengthAdjust="spacingAndGlyphs" fill="#000" stroke="#000" stroke-width="0.55">Resources:</text>
<text x="944.00" y="402.80" font-size="20.8" font-weight="normal" textLength="24.22" lengthAdjust="spacingAndGlyphs" fill="#000" stroke="#000" stroke-width="0.55">All</text>
<text x="836.00" y="427.70" font-size="20.8" font-weight="normal" textLength="91.18" lengthAdjust="spacingAndGlyphs" fill="#000" stroke="#000" stroke-width="0.55">Delegate:</text>
<text x="932.00" y="427.70" font-size="20.8" font-weight="normal" textLength="93.12" lengthAdjust="spacingAndGlyphs" fill="#000" stroke="#000" stroke-width="0.55">Indefinite</text>
<text x="642.50" y="309.40" font-size="26.0" font-weight="bold" textLength="29.68" lengthAdjust="spacingAndGlyphs" fill="#000" stroke="#000" stroke-width="0.35">SP</text>
<text x="677.50" y="309.40" font-size="26.0" font-weight="bold" textLength="99.15" lengthAdjust="spacingAndGlyphs" fill="#000" stroke="#000" stroke-width="0.35">decision</text>
<text x="635.00" y="340.20" font-size="26.0" font-weight="bold" textLength="67.13" lengthAdjust="spacingAndGlyphs" fill="#000" stroke="#000" stroke-width="0.35">space</text>
<text x="710.00" y="340.20" font-size="26.0" font-weight="bold" textLength="31.33" lengthAdjust="spacingAndGlyphs" fill="#000" stroke="#000" stroke-width="0.35">on</text>
<text x="747.00" y="340.20" font-size="26.0" font-weight="bold" textLength="38.10" lengthAdjust="spacingAndGlyphs" fill="#000" stroke="#000" stroke-width="0.35">A’s</text>
<text x="650.50" y="370.20" font-size="26.0" font-weight="bold" textLength="118.09" lengthAdjust="spacingAndGlyphs" fill="#000" stroke="#000" stroke-width="0.35">resources</text>
<text x="642.50" y="401.40" font-size="26.0" font-weight="bold" textLength="134.59" lengthAdjust="spacingAndGlyphs" fill="#000" stroke="#000" stroke-width="0.35">concerning</text>
<text x="643.50" y="432.40" font-size="26.0" font-weight="bold" textLength="39.07" lengthAdjust="spacingAndGlyphs" fill="#000" stroke="#000" stroke-width="0.35">the</text>
<text x="690.00" y="432.40" font-size="26.0" font-weight="bold" textLength="86.53" lengthAdjust="spacingAndGlyphs" fill="#000" stroke="#000" stroke-width="0.35">service</text>
<text x="633.00" y="462.50" font-size="26.0" font-weight="bold" textLength="91.65" lengthAdjust="spacingAndGlyphs" fill="#000" stroke="#000" stroke-width="0.35">request</text>
<text x="730.50" y="462.50" font-size="26.0" font-weight="bold" textLength="30.23" lengthAdjust="spacingAndGlyphs" fill="#000" stroke="#000" stroke-width="0.35">by</text>
<text x="769.00" y="462.50" font-size="26.0" font-weight="bold" textLength="18.00" lengthAdjust="spacingAndGlyphs" fill="#000" stroke="#000" stroke-width="0.35">D</text>
</svg>
</body></html>
